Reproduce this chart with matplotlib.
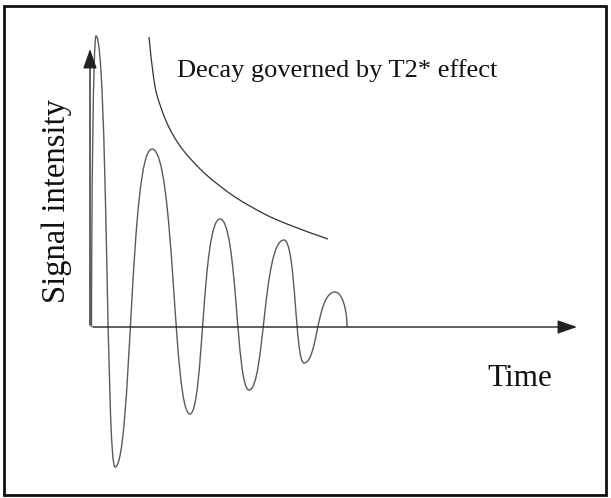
import matplotlib
matplotlib.use("Agg")
import matplotlib.pyplot as plt
from matplotlib.path import Path
import matplotlib.patches as patches

plt.rcParams['font.family'] = ['Liberation Serif', 'DejaVu Serif']

# signal extrema (time, intensity), arbitrary units
sig_t = [0.15, 0.6, 2.5, 6.2, 10.0, 13.0, 15.9, 19.4, 21.4, 24.5, 25.7]
sig_s = [0.0, 29.1, -14.0, 17.8, -8.7, 10.8, -6.3, 8.7, -3.6, 3.5, 0.0]

# T2* decay envelope
env_t = [5.9, 6.3, 7.0, 8.3, 10.3, 13.0, 16.0, 19.7, 23.8]
env_s = [29.0, 24.7, 22.0, 19.0, 16.4, 14.0, 12.0, 10.2, 8.8]

title_text = "Decay governed by T2* effect"
xlabel_text = "Time"
ylabel_text = "Signal intensity"

x_end = 48.7
y_end = 27.8

line_col = "#5a5a5a"
#---------------------------------------------------------------------------
def signal_path(ts, ss, k_peak=0.6, k_trough=0.45):
    # cubic bezier pieces between extrema, flat tangents at each extremum
    verts = [(ts[0], ss[0])]
    codes = [Path.MOVETO]
    for i in range(len(ts) - 1):
        t0, s0 = ts[i], ss[i]
        t1, s1 = ts[i + 1], ss[i + 1]
        dt = t1 - t0
        if i == 0:
            c1 = (t0, s0 + 0.4 * (s1 - s0))   # starts steep off the axis
        else:
            k0 = k_peak if s0 > 0 else k_trough
            c1 = (t0 + k0 * dt, s0)
        if i == len(ts) - 2:
            c2 = (t1, s1 + 0.5 * (s0 - s1))   # drops straight onto the axis
        else:
            k1 = k_peak if s1 > 0 else k_trough
            c2 = (t1 - k1 * dt, s1)
        verts += [c1, c2, (t1, s1)]
        codes += [Path.CURVE4] * 3
    return Path(verts, codes)
#---------------------------------------------------------------------------
def smooth_path(ts, ss):
    # quadratic b-spline through the read points
    pts = list(zip(ts, ss))
    verts = [pts[0]]
    codes = [Path.MOVETO]
    for i in range(1, len(pts) - 1):
        if i < len(pts) - 2:
            end = ((pts[i][0] + pts[i + 1][0]) / 2, (pts[i][1] + pts[i + 1][1]) / 2)
        else:
            end = pts[-1]
        verts += [pts[i], end]
        codes += [Path.CURVE3] * 2
    return Path(verts, codes)
#---------------------------------------------------------------------------
fig = plt.figure(figsize=(6.11, 4.98), dpi=100)
ax = fig.add_axes([0, 0, 1, 1])
ax.set_xlim(-9.0, 52.1)
ax.set_ylim(-17.1, 32.7)
ax.axis("off")

# outer frame
frame = patches.Rectangle((4 / 611, 1 - 495 / 498), 602 / 611, 489 / 498,
                          transform=ax.transAxes, fill=False,
                          edgecolor="#111111", linewidth=2.0)
ax.add_patch(frame)

# axes arrows
arrow = dict(arrowstyle="-|>,head_length=1.2,head_width=0.42",
             color="#222222", linewidth=1.0, shrinkA=0, shrinkB=0)
ax.annotate("", xy=(x_end, 0), xytext=(0.3, 0), arrowprops=arrow)
ax.annotate("", xy=(0, y_end), xytext=(0, 0.2), arrowprops=arrow)

# signal and envelope
ax.add_patch(patches.PathPatch(signal_path(sig_t, sig_s), fill=False,
                               edgecolor=line_col, linewidth=1.0))
ax.add_patch(patches.PathPatch(smooth_path(env_t, env_s), fill=False,
                               edgecolor="#333333", linewidth=0.9))

ax.text(8.7, 25.6, title_text, fontsize=19, ha="left", va="center", color="#111111")
ax.text(43.0, -5.1, xlabel_text, fontsize=22.5, ha="center", va="center", color="#111111")
ax.text(-3.3, 12.6, ylabel_text, fontsize=23.5, ha="center", va="center",
        rotation=90, color="#111111")

fig.savefig("out.png", dpi=100)
